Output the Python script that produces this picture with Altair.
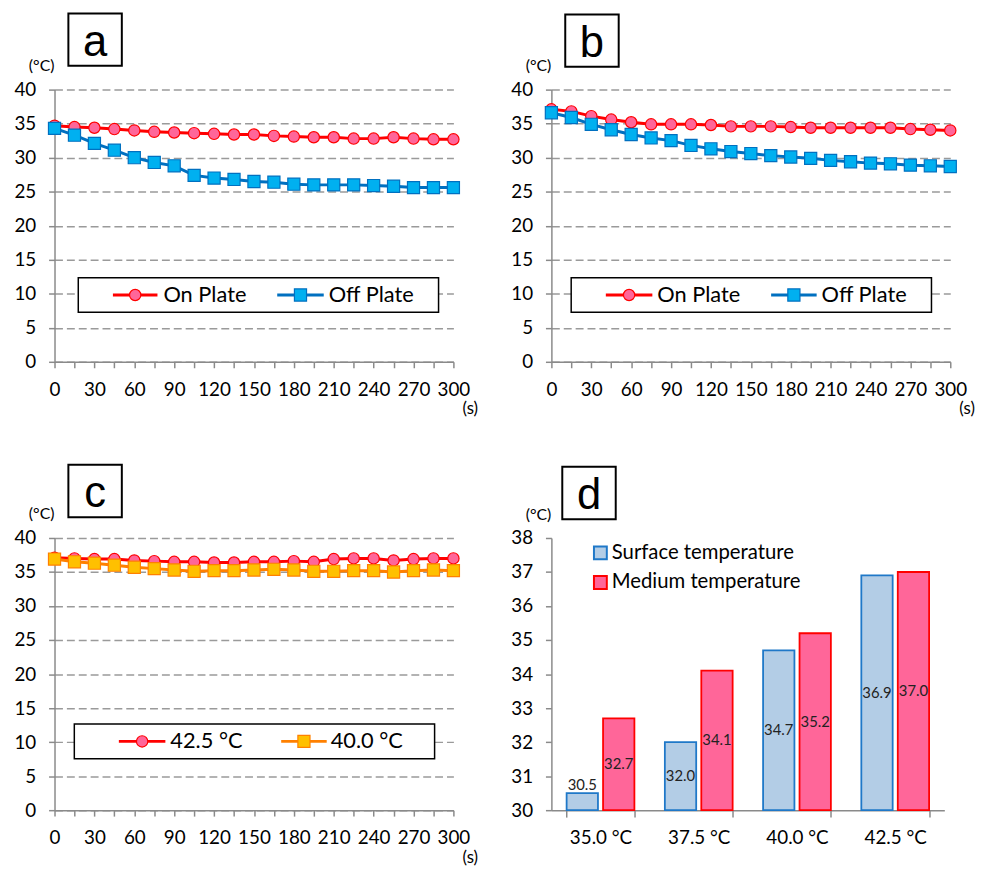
import altair as alt
import pandas as pd

# ---------------- data ----------------
t_sec = list(range(0, 301, 15))

a_names = ["On Plate", "Off Plate"]
a_on = [34.7, 34.5, 34.4, 34.2, 34.0, 33.8, 33.7, 33.6, 33.5, 33.4, 33.4, 33.2, 33.1, 33.0, 33.0, 32.8, 32.8, 33.0, 32.8, 32.7, 32.7]
a_off = [34.3, 33.3, 32.1, 31.1, 30.0, 29.3, 28.8, 27.4, 27.0, 26.8, 26.5, 26.4, 26.1, 26.0, 26.0, 26.0, 25.9, 25.8, 25.6, 25.6, 25.6]

b_names = ["On Plate", "Off Plate"]
b_on = [37.1, 36.8, 36.1, 35.6, 35.2, 34.9, 34.9, 34.9, 34.8, 34.6, 34.6, 34.6, 34.5, 34.4, 34.4, 34.4, 34.4, 34.4, 34.2, 34.1, 34.0]
b_off = [36.6, 35.9, 34.9, 34.1, 33.4, 32.9, 32.5, 31.8, 31.3, 30.9, 30.6, 30.3, 30.1, 29.9, 29.6, 29.4, 29.2, 29.1, 28.9, 28.8, 28.7]

c_names = ["42.5 °C", "40.0 °C"]
c_425 = [37.1, 37.0, 36.9, 36.9, 36.7, 36.6, 36.5, 36.5, 36.4, 36.4, 36.5, 36.5, 36.6, 36.5, 36.9, 37.0, 37.0, 36.7, 36.9, 37.0, 37.0]
c_400 = [36.9, 36.5, 36.3, 36.0, 35.7, 35.5, 35.3, 35.1, 35.2, 35.2, 35.3, 35.4, 35.3, 35.1, 35.1, 35.2, 35.2, 35.0, 35.2, 35.3, 35.2]

d_cats = ["35.0 °C", "37.5 °C", "40.0 °C", "42.5 °C"]
d_kinds = ["Surface temperature", "Medium temperature"]
d_surface = [30.5, 32.0, 34.7, 36.9]
d_medium = [32.7, 34.1, 35.2, 37.0]

# ---------------- style ----------------
FONT = "Lato"
GRAY = "#8a8a8a"
W, H = 403, 275
RED, PINK = "#FF0000", "#FF6699"
BLUE, CYAN = "#0070C0", "#00B0F0"
ORANGE, GOLD = "#FF8000", "#FFC000"
D_FILL = ["#B3CDE6", "#FF6699"]
D_STROKE = ["#1F78C8", "#FF0000"]


def one():
    return alt.Chart(pd.DataFrame({"k": [0]}))


def letter_box(letter, dx, top):
    box = one().mark_rect(fill="white", stroke="black", strokeWidth=2).encode(
        x=alt.value(dx), x2=alt.value(dx + 54), y=alt.value(top), y2=alt.value(top + 53))
    txt = one().mark_text(font="Liberation Sans", fontSize=44, baseline="alphabetic",
                          align="center", color="black").encode(
        x=alt.value(dx + 27), y=alt.value(top + 43), text=alt.value(letter))
    return [box, txt]


def unit_label(dx, dy):
    return one().mark_text(font=FONT, fontSize=16, align="center", baseline="middle",
                           color="black").encode(
        x=alt.value(dx), y=alt.value(dy), text=alt.value("(°C)"))


def line_panel(names, series, lcols, fcols, shapes, letter, lbox, items, ctop):
    rows = []
    for name, vals in zip(names, series):
        for tt, v in zip(t_sec, vals):
            rows.append({"t": tt, "v": v, "s": name})
    df = pd.DataFrame(rows)
    base = alt.Chart(df)
    xenc = alt.X("t:Q", scale=alt.Scale(domain=[0, 300], nice=False),
                 axis=alt.Axis(values=t_sec, title=None, grid=False,
                               labelExpr="datum.value % 30 === 0 ? datum.label : ''",
                               tickSize=6, labelPadding=13, labelFontSize=19,
                               labelFlush=False, labelOverlap=False))
    yenc = alt.Y("v:Q", scale=alt.Scale(domain=[0, 40], nice=False),
                 axis=alt.Axis(values=list(range(0, 41, 5)), title=None, grid=True,
                               gridDash=[8, 4], gridColor="#9a9a9a", gridWidth=1.5,
                               tickSize=6, labelPadding=13, labelFontSize=19))
    layers = []
    for i, name in enumerate(names):
        sub = base.transform_filter(alt.datum.s == name)
        layers.append(sub.mark_line(color=lcols[i], strokeWidth=3).encode(x=xenc, y=yenc))
        layers.append(sub.mark_point(shape=shapes[i], filled=True, fill=fcols[i],
                                     stroke=lcols[i], strokeWidth=1.2, opacity=1,
                                     size=130 if shapes[i] == "circle" else 150)
                      .encode(x=xenc, y=yenc))
    # legend box
    bx1, bx2, by1, by2 = lbox
    cy = (by1 + by2) / 2
    layers.append(one().mark_rect(fill="white", stroke="black", strokeWidth=1.5).encode(
        x=alt.value(bx1), x2=alt.value(bx2), y=alt.value(by1), y2=alt.value(by2)))
    for i, (l1, l2, tx) in enumerate(items):
        layers.append(one().mark_rule(color=lcols[i], strokeWidth=3).encode(
            x=alt.value(l1), x2=alt.value(l2), y=alt.value(cy)))
        layers.append(one().mark_point(shape=shapes[i], filled=True, fill=fcols[i],
                                       stroke=lcols[i], strokeWidth=1.2, opacity=1,
                                       size=130 if shapes[i] == "circle" else 150).encode(
            x=alt.value((l1 + l2) / 2), y=alt.value(cy)))
        layers.append(one().mark_text(font=FONT, fontSize=22, align="left", baseline="middle",
                                      color="black").encode(
            x=alt.value(tx), y=alt.value(cy), text=alt.value(names[i])))
    layers += letter_box(letter, 14, ctop)
    layers.append(unit_label(-13, -24))
    layers.append(one().mark_text(font=FONT, fontSize=17, align="center", baseline="middle",
                                  color="black").encode(
        x=alt.value(W + 17), y=alt.value(H + 48), text=alt.value("(s)")))
    return alt.layer(*layers).properties(width=W, height=H)


pa = line_panel(a_names, [a_on, a_off], [RED, BLUE], [PINK, CYAN], ["circle", "square"], "a",
                (24, 388, 190, 225), [(59, 104, 110), (225, 272, 277)], -77)
pb = line_panel(b_names, [b_on, b_off], [RED, BLUE], [PINK, CYAN], ["circle", "square"], "b",
                (20, 384, 190, 225), [(55, 102, 107), (222, 268, 273)], -76)
pc = line_panel(c_names, [c_425, c_400], [RED, ORANGE], [PINK, GOLD], ["circle", "square"], "c",
                (20, 384, 188, 223), [(65, 112, 117), (229, 275, 279)], -74)

# ---------------- panel d ----------------
drows = []
for c, s, m in zip(d_cats, d_surface, d_medium):
    drows.append({"cat": c, "kind": d_kinds[0], "v": s})
    drows.append({"cat": c, "kind": d_kinds[1], "v": m})
ddf = pd.DataFrame(drows)
dbase = alt.Chart(ddf).transform_calculate(
    ly="datum.v - 30 < 1 ? datum.v + 0.25 : (datum.v + 30) / 2",
    lbl="format(datum.v, '.1f')")
dx = alt.X("cat:N", sort=d_cats, scale=alt.Scale(paddingInner=0.31, paddingOuter=0.155),
           axis=alt.Axis(title=None, labelAngle=0, tickBand="extent", tickSize=7,
                         labelPadding=12, labelFontSize=19))
dxo = alt.XOffset("kind:N", sort=d_kinds, scale=alt.Scale(paddingInner=0.14))
d_axis = alt.Axis(values=list(range(30, 39)), title=None, grid=False,
                  tickSize=6, labelPadding=13, labelFontSize=19)
dscale = alt.Scale(domain=[30, 38], nice=False, zero=False)
bars = dbase.mark_bar(strokeWidth=1.8).encode(
    x=dx, xOffset=dxo, y=alt.Y("v:Q", scale=dscale, axis=d_axis), y2=alt.datum(30),
    fill=alt.Fill("kind:N", sort=d_kinds, scale=alt.Scale(domain=d_kinds, range=D_FILL),
                  legend=None),
    stroke=alt.Stroke("kind:N", sort=d_kinds, scale=alt.Scale(domain=d_kinds, range=D_STROKE),
                      legend=None))
labels = dbase.mark_text(font=FONT, fontSize=15, color="#222222", baseline="middle").encode(
    x=dx, xOffset=dxo, y=alt.Y("ly:Q", scale=dscale, axis=d_axis), text="lbl:N")

d_leg = []
for i, k in enumerate(d_kinds):
    cy = 15 + 30 * i
    d_leg.append(one().mark_rect(fill=D_FILL[i], stroke=D_STROKE[i], strokeWidth=2).encode(
        x=alt.value(43), x2=alt.value(56), y=alt.value(cy - 6.5), y2=alt.value(cy + 6.5)))
    d_leg.append(one().mark_text(font=FONT, fontSize=20.5, align="left", baseline="middle",
                                 color="black").encode(
        x=alt.value(61), y=alt.value(cy), text=alt.value(k)))

pd_ = alt.layer(bars, labels, *d_leg, *letter_box("d", 11, -72), unit_label(-13, -23)).properties(
    width=397, height=H)

chart = alt.concat(pa, pb, pc, pd_, columns=2, spacing={"row": 178, "column": 99},
                   bounds="flush").properties(
    padding={"left": 5, "top": 0, "right": 2, "bottom": 2}
).configure_view(stroke=None).configure_axis(
    labelFont=FONT, labelColor="black", domainColor=GRAY, tickColor=GRAY,
    domainWidth=1.5, tickWidth=1.5
)

chart.save("out.html", embed_options={"renderer": "svg", "actions": False})
